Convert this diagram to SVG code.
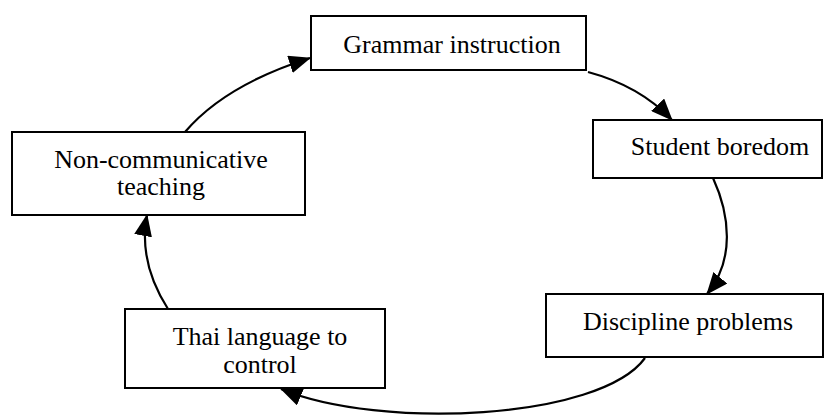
<svg xmlns="http://www.w3.org/2000/svg" width="827" height="418" viewBox="0 0 827 418">
<style>
.box{fill:#fff;stroke:#000;stroke-width:2}
.lbl{font-family:'Liberation Serif','Times New Roman',serif;font-size:26px;fill:#000;text-anchor:middle}
.conn{fill:none;stroke:#000;stroke-width:2.2}
</style>
<defs>
<marker id="ah" markerUnits="userSpaceOnUse" markerWidth="22" markerHeight="18" refX="21" refY="9" orient="auto">
<path d="M0,0 L22,9 L0,18 z" fill="#000"/>
</marker>
</defs>
<rect width="827" height="418" fill="#fff"/>
<g id="grammar">
<rect class="box" x="311" y="16" width="275" height="54"/>
<text class="lbl" x="452" y="53">Grammar instruction</text>
</g>
<g id="boredom">
<rect class="box" x="593" y="120" width="229" height="58"/>
<text class="lbl" x="720" y="155">Student boredom</text>
</g>
<g id="discipline">
<rect class="box" x="546" y="294" width="277" height="63"/>
<text class="lbl" x="688" y="330">Discipline problems</text>
</g>
<g id="thai">
<rect class="box" x="125" y="309" width="260" height="79"/>
<text class="lbl" x="260" y="345">Thai language to</text>
<text class="lbl" x="260" y="373">control</text>
</g>
<g id="noncomm">
<rect class="box" x="12" y="132" width="293" height="83"/>
<text class="lbl" x="161" y="168">Non-communicative</text>
<text class="lbl" x="161" y="195">teaching</text>
</g>
<g id="connectors">
<path class="conn" marker-end="url(#ah)" d="M185,132 Q225,85 310,58"/>
<path class="conn" marker-end="url(#ah)" d="M588,72 Q640,86 672,120"/>
<path class="conn" marker-end="url(#ah)" d="M713,178 C730,215 735,260 707,294"/>
<path class="conn" marker-end="url(#ah)" d="M645,358 C600,420 380,430 281,389"/>
<path class="conn" marker-end="url(#ah)" d="M168,309 Q138,262 147,215"/>
</g>
</svg>
